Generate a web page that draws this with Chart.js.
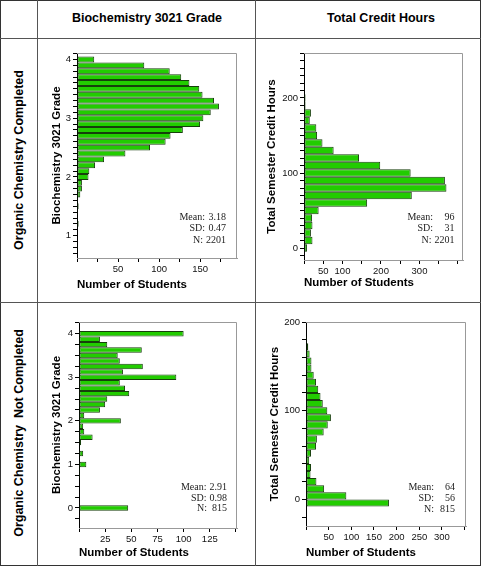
<!DOCTYPE html>
<html>
<head>
<meta charset="utf-8">
<script src="https://cdn.jsdelivr.net/npm/chart.js@4.4.1/dist/chart.umd.min.js"></script>
<style>
  html, body { margin: 0; padding: 0; background: #fff; }
  #wrap { position: relative; width: 481px; height: 566px; font-family: "Liberation Sans", Arial, sans-serif; }
  .frame { position: absolute; left: 0; top: 0; width: 481px; height: 566px; box-sizing: border-box; border: 1px solid #333; }
  .vl { position: absolute; top: 0; width: 1px; height: 566px; background: #555; }
  .hl { position: absolute; left: 0; height: 1px; width: 481px; background: #555; }
  .hdr { position: absolute; font-weight: bold; font-size: 12.5px; white-space: nowrap; transform: translate(-50%, -50%); }
  .rowlab { position: absolute; font-weight: bold; font-size: 12.5px; white-space: pre; transform: translate(-50%, -50%) rotate(-90deg); }
  canvas { position: absolute; }
</style>
</head>
<body>
<div id="wrap">
  <div class="frame"></div>
  <div class="vl" style="left:37px"></div>
  <div class="vl" style="left:255px"></div>
  <div class="hl" style="top:38px"></div>
  <div class="hl" style="top:302px"></div>
  <div class="hdr" style="left:147px;top:18px">Biochemistry 3021 Grade</div>
  <div class="hdr" style="left:381px;top:18px">Total Credit Hours</div>
  <div class="rowlab" style="left:19px;top:160px">Organic Chemistry Completed</div>
  <div class="rowlab" style="left:19px;top:433px">Organic Chemistry  Not Completed</div>
  <canvas id="c1" width="217" height="263" style="left:38px;top:39px"></canvas>
  <canvas id="c2" width="224" height="263" style="left:256px;top:39px"></canvas>
  <canvas id="c3" width="217" height="262" style="left:38px;top:303px"></canvas>
  <canvas id="c4" width="224" height="262" style="left:256px;top:303px"></canvas>
</div>
<script>
// completed organic chemistry: grade histogram
const gradeBinsA = [4.0, 3.9, 3.8, 3.7, 3.6, 3.5, 3.4, 3.3, 3.2, 3.1, 3.0, 2.9, 2.8, 2.7, 2.6, 2.5, 2.4, 2.3, 2.2, 2.1, 2.0, 1.9, 1.8, 1.7, 1.6, 1.5, 1.4, 1.3, 1.2, 1.1, 1.0, 0.9, 0.8];
const gradeCountsA = [21, 82, 113, 127, 137, 149, 153, 167, 173, 163, 154, 150, 129, 114, 108, 89, 59, 33, 22, 15, 14, 6, 6, 4, 1, 2, 1, 0, 2, 0, 0, 0, 1];
// completed organic chemistry: credit hours histogram
const hourBinsA = [0, 10, 20, 30, 40, 50, 60, 70, 80, 90, 100, 110, 120, 130, 140, 150, 160, 170, 180, 190, 200, 210, 220, 230, 240, 250];
const hourCountsA = [8, 22, 18, 22, 21, 38, 164, 280, 370, 366, 277, 198, 143, 77, 48, 34, 32, 15, 18, 4, 4, 1, 1, 1, 1, 1];
// not completed: grade histogram
const gradeBinsB = [4, 3.875, 3.75, 3.625, 3.5, 3.375, 3.25, 3.125, 3, 2.875, 2.75, 2.625, 2.5, 2.375, 2.25, 2.125, 2, 1.875, 1.75, 1.625, 1.5, 1.375, 1.25, 1.125, 1, 0.875, 0.75, 0.625, 0.5, 0.375, 0.25, 0.125, 0];
const gradeCountsB = [100, 20, 27, 60, 37, 39, 61, 42, 93, 39, 44, 48, 27, 25, 20, 5, 40, 4, 5, 13, 2, 0, 4, 0, 7, 1, 1, 0, 0, 0, 0, 0, 47];
// not completed: credit hours histogram
const hourBinsB = [-4, 4, 12, 20, 28, 36, 44, 52, 60, 68, 76, 84, 92, 100, 108, 116, 124, 132, 140, 148, 156, 164, 172, 180, 188, 196];
const hourCountsB = [183, 89, 40, 23, 10, 11, 7, 11, 22, 24, 39, 48, 55, 47, 37, 32, 27, 22, 17, 12, 12, 8, 5, 2, 1, 1];

// tick labels
const gradeTicks = [0, 1, 2, 3, 4];
const hourTicks = [0, 100, 200];
const countTicksA = [50, 100, 150];
const countTicksB = [50, 100, 200, 300];
const countTicksC = [25, 50, 75, 100, 125];
const countTicksD = [50, 100, 150, 200, 250, 300];

// summary statistics
const statNames = ['Mean:', 'SD:', 'N:'];
const statsGradeA = ['3.18', '0.47', '2201'];
const statsHoursA = ['96', '31', '2201'];
const statsGradeB = ['2.91', '0.98', '815'];
const statsHoursB = ['64', '56', '815'];

const FONT = '"Liberation Sans", Arial, sans-serif';

// gray frame on top/right + the stats text block
const statsBox = {
  id: 'statsBox',
  afterDraw(chart, args, o) {
    const { ctx, chartArea: a } = chart;
    ctx.save();
    ctx.strokeStyle = '#999';
    ctx.lineWidth = 1;
    ctx.beginPath();
    ctx.moveTo(a.left, Math.round(a.top) + 0.5);
    ctx.lineTo(Math.round(a.right) - 0.5, Math.round(a.top) + 0.5);
    ctx.lineTo(Math.round(a.right) - 0.5, a.bottom);
    ctx.stroke();
    ctx.font = '10px "Liberation Serif", "Times New Roman", serif';
    ctx.fillStyle = '#222';
    ctx.textBaseline = 'middle';
    ctx.textAlign = 'right';
    o.values.forEach((v, i) => {
      const y = a.bottom - o.bottom + i * o.gap;
      const vx = a.right - o.valueRight;
      const lx = Math.min(a.right - o.labelRight, vx - ctx.measureText(v).width - 3);
      ctx.fillText(statNames[i], lx, y);
      ctx.fillText(v, vx, y);
    });
    ctx.restore();
  }
};

function hist(id, bins, counts, o) {
  return new Chart(document.getElementById(id), {
    type: 'bar',
    data: {
      datasets: [{
        data: bins.map((b, i) => ({ x: counts[i], y: b })),
        backgroundColor: '#22cc00',
        borderColor: '#173f0c',
        borderWidth: 1,
        borderSkipped: false,
        inflateAmount: 0,
        barPercentage: 1,
        categoryPercentage: 1
      }]
    },
    plugins: [statsBox],
    options: {
      indexAxis: 'y',
      responsive: false,
      animation: false,
      events: [],
      layout: { padding: o.pad },
      plugins: {
        legend: { display: false },
        tooltip: { enabled: false },
        statsBox: o.stats
      },
      scales: {
        y: {
          type: 'linear',
          offset: false,
          min: o.yMin,
          max: o.yMax,
          afterFit: s => { s.width = o.yWidth; },
          grid: { offset: false, drawOnChartArea: false, tickLength: 4, tickColor: '#000' },
          border: { color: '#000' },
          ticks: {
            stepSize: o.yStep,
            autoSkip: false,
            includeBounds: false,
            padding: 2,
            color: '#111',
            font: { size: 9.5, family: FONT },
            callback: v => o.yLabels.some(t => Math.abs(t - v) < 1e-6) ? String(Math.round(v)) : ''
          },
          title: {
            display: true,
            text: o.yTitle,
            color: '#000',
            font: { size: 11.5, weight: 'bold', family: FONT },
            padding: { top: o.yTitlePad, bottom: 0 }
          }
        },
        x: {
          type: 'linear',
          min: 0,
          max: o.xMax,
          afterFit: s => { s.height = o.xHeight; },
          grid: { drawOnChartArea: false, tickLength: 4, tickColor: '#000' },
          border: { color: '#999' },
          ticks: {
            stepSize: o.xStep,
            autoSkip: false,
            includeBounds: false,
            maxRotation: 0,
            padding: 2,
            color: '#111',
            font: { size: 9.5, family: FONT },
            callback: v => o.xLabels.includes(v) ? String(v) : ''
          },
          title: {
            display: true,
            text: 'Number of Students',
            align: 'start',
            color: '#000',
            font: { size: 11.5, weight: 'bold', family: FONT },
            padding: { top: 0, bottom: o.xTitlePad }
          }
        }
      }
    }
  });
}

hist('c1', gradeBinsA, gradeCountsA, {
  pad: { top: 14, right: 18, left: 0, bottom: 0 },
  yWidth: 39, xHeight: 44,
  yMin: 0.62, yMax: 4.11, yStep: 0.1, yLabels: gradeTicks,
  xMax: 195, xStep: 25, xLabels: countTicksA,
  yTitle: 'Biochemistry 3021 Grade', yTitlePad: 12, xTitlePad: 10,
  stats: { values: statsGradeA, bottom: 41, gap: 11.7, labelRight: 32, valueRight: 11 }
});

hist('c2', hourBinsA, hourCountsA, {
  pad: { top: 14, right: 17, left: 0, bottom: 0 },
  yWidth: 48, xHeight: 42,
  yMin: -16, yMax: 260, yStep: 10, yLabels: hourTicks,
  xMax: 413, xStep: 50, xLabels: countTicksB,
  yTitle: 'Total Semester Credit Hours', yTitlePad: 9, xTitlePad: 12,
  stats: { values: statsHoursA, bottom: 43, gap: 11.7, labelRight: 30, valueRight: 8.5 }
});

hist('c3', gradeBinsB, gradeCountsB, {
  pad: { top: 19, right: 18, left: 0, bottom: 0 },
  yWidth: 41, xHeight: 37,
  yMin: -0.46, yMax: 4.27, yStep: 0.25, yLabels: gradeTicks,
  xMax: 151, xStep: 25, xLabels: countTicksC,
  yTitle: 'Biochemistry 3021 Grade', yTitlePad: 12, xTitlePad: 5,
  stats: { values: statsGradeB, bottom: 40.6, gap: 10.7, labelRight: 30, valueRight: 10 }
});

hist('c4', hourBinsB, hourCountsB, {
  pad: { top: 19, right: 14, left: 0, bottom: 0 },
  yWidth: 50, xHeight: 39,
  yMin: -30, yMax: 200, yStep: 20, yLabels: hourTicks,
  xMax: 353, xStep: 50, xLabels: countTicksD,
  yTitle: 'Total Semester Credit Hours', yTitlePad: 12, xTitlePad: 5,
  stats: { values: statsHoursB, bottom: 38.3, gap: 10.8, labelRight: 32, valueRight: 11 }
});
</script>
</body>
</html>
